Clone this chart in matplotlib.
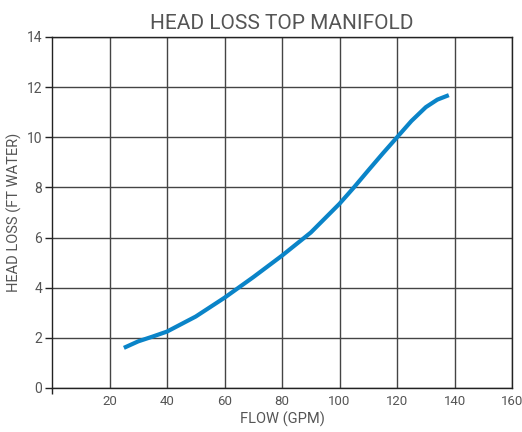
import matplotlib.pyplot as plt

flow = [25, 30, 35, 40, 50, 60, 70, 80, 90, 100, 105, 110, 115, 120, 125, 130, 134, 138]
head_loss = [1.6, 1.86, 2.05, 2.25, 2.85, 3.6, 4.42, 5.28, 6.2, 7.35, 8.0, 8.68, 9.35, 10.0, 10.65, 11.2, 11.5, 11.68]

x_ticks = [20, 40, 60, 80, 100, 120, 140, 160]
y_ticks = [0, 2, 4, 6, 8, 10, 12, 14]

TEXT = '#555555'
LINE = '#0a84c8'

plt.rcParams['font.family'] = ['Roboto', 'DejaVu Sans']

fig = plt.figure(figsize=(5.22, 4.32), dpi=100)
ax = fig.add_axes([0.0996, 0.1019, 0.8814, 0.8125])

ax.plot(flow, head_loss, color=LINE, linewidth=3, solid_capstyle='butt',
        solid_joinstyle='round', zorder=3)

ax.set_xlim(0, 160)
ax.set_ylim(0, 14)
ax.set_xticks(x_ticks)
ax.set_yticks(y_ticks)
ax.set_xticks([0], minor=True)
ax.grid(True, color='#444444', linewidth=1)
ax.tick_params(axis='x', which='major', length=0, pad=5, labelsize=9.5, labelcolor=TEXT)
ax.tick_params(axis='x', which='minor', length=4, width=1, color='#222222')
ax.tick_params(axis='y', length=5, width=1, pad=2, labelsize=10, labelcolor=TEXT, color='#222222')
for s in ax.spines.values():
    s.set_color('#222222')
    s.set_linewidth(1)

ax.set_title('HEAD LOSS TOP MANIFOLD', fontsize=15, color=TEXT, pad=6)
ax.set_xlabel('FLOW (GPM)', fontsize=10.5, color=TEXT, labelpad=3)
ax.set_ylabel('HEAD LOSS (FT WATER)', fontsize=10.5, color=TEXT, labelpad=3)

fig.savefig('out.png', dpi=100)
